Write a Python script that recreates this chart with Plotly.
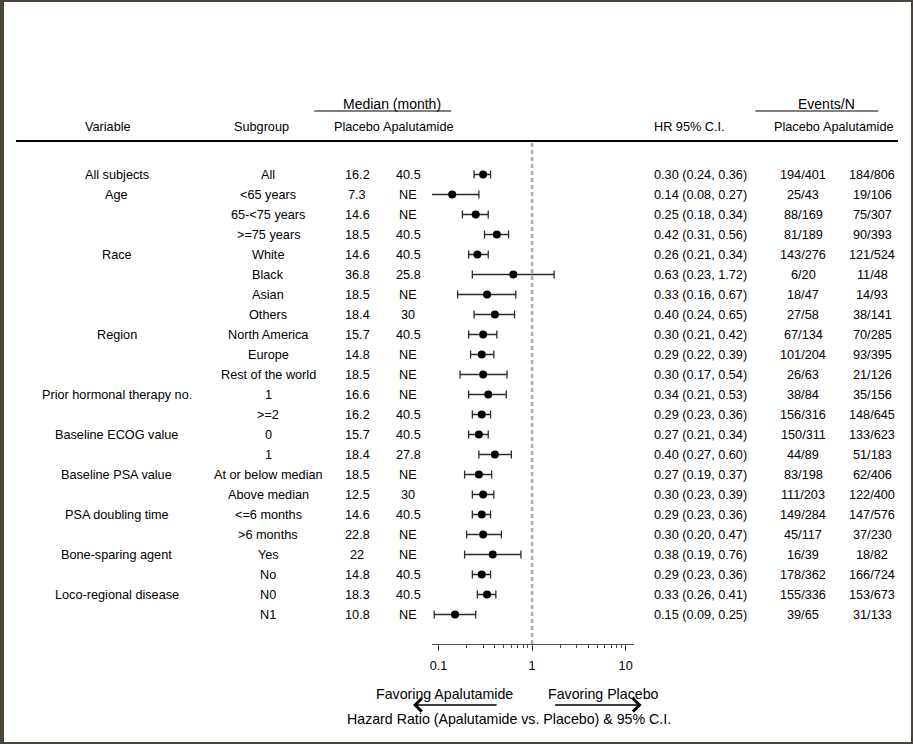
import plotly.graph_objects as go

# forest plot of subgroup hazard ratios
variables = ["All subjects", "Age", "", "", "Race", "", "", "", "Region", "", "",
             "Prior hormonal therapy no.", "", "Baseline ECOG value", "",
             "Baseline PSA value", "", "PSA doubling time", "",
             "Bone-sparing agent", "", "Loco-regional disease", ""]
subgroups = ["All", "<65 years", "65-<75 years", ">=75 years", "White", "Black",
             "Asian", "Others", "North America", "Europe", "Rest of the world",
             "1", ">=2", "0", "1", "At or below median", "Above median",
             "<=6 months", ">6 months", "Yes", "No", "N0", "N1"]
med_placebo = ["16.2", "7.3", "14.6", "18.5", "14.6", "36.8", "18.5", "18.4", "15.7",
               "14.8", "18.5", "16.6", "16.2", "15.7", "18.4", "18.5", "12.5", "14.6",
               "22.8", "22", "14.8", "18.3", "10.8"]
med_apa = ["40.5", "NE", "NE", "40.5", "40.5", "25.8", "NE", "30", "40.5", "NE", "NE",
           "NE", "40.5", "40.5", "27.8", "NE", "30", "40.5", "NE", "NE", "40.5", "40.5", "NE"]
hr = [0.30, 0.14, 0.25, 0.42, 0.26, 0.63, 0.33, 0.40, 0.30, 0.29, 0.30, 0.34,
      0.29, 0.27, 0.40, 0.27, 0.30, 0.29, 0.30, 0.38, 0.29, 0.33, 0.15]
hr_lo = [0.24, 0.08, 0.18, 0.31, 0.21, 0.23, 0.16, 0.24, 0.21, 0.22, 0.17, 0.21,
         0.23, 0.21, 0.27, 0.19, 0.23, 0.23, 0.20, 0.19, 0.23, 0.26, 0.09]
hr_hi = [0.36, 0.27, 0.34, 0.56, 0.34, 1.72, 0.67, 0.65, 0.42, 0.39, 0.54, 0.53,
         0.36, 0.34, 0.60, 0.37, 0.39, 0.36, 0.47, 0.76, 0.36, 0.41, 0.25]
events_placebo = ["194/401", "25/43", "88/169", "81/189", "143/276", "6/20", "18/47",
                  "27/58", "67/134", "101/204", "26/63", "38/84", "156/316", "150/311",
                  "44/89", "83/198", "111/203", "149/284", "45/117", "16/39", "178/362",
                  "155/336", "39/65"]
events_apa = ["184/806", "19/106", "75/307", "90/393", "121/524", "11/48", "14/93",
              "38/141", "70/285", "93/395", "21/126", "35/156", "148/645", "133/623",
              "51/183", "62/406", "122/400", "147/576", "37/230", "18/82", "166/724",
              "153/673", "31/133"]
tick_vals = [0.1, 1, 10]
tick_text = ["0.1", "1", "10"]
minor_vals = [0.2, 0.3, 0.4, 0.5, 0.6, 0.7, 0.8, 0.9, 2, 3, 4, 5, 6, 7, 8, 9]

W, H = 913, 744
FONT = "Liberation Sans, Arial, sans-serif"
FS = 12.7
rows = list(range(len(hr)))


def px(x):
    return x / W


def py(y):
    return 1 - y / H


fig = go.Figure()
fig.add_trace(go.Scatter(
    x=hr, y=rows, mode="markers",
    marker=dict(color="black", size=8),
    error_x=dict(type="data", symmetric=False,
                 array=[h - m for h, m in zip(hr_hi, hr)],
                 arrayminus=[m - l for m, l in zip(hr, hr_lo)],
                 color="#2b2b2b", thickness=1.3, width=4),
    showlegend=False, hoverinfo="skip",
))

ann = []


def txt(x, y, s, yref="paper", anchor="center", size=FS):
    ann.append(dict(x=px(x), y=y, xref="paper", yref=yref, text=s, showarrow=False,
                    xanchor=anchor, yanchor="middle",
                    font=dict(family=FONT, size=size, color="black")))


# header
txt(391, py(104), "Median (month)", size=14)
txt(826, py(104), "Events/N", size=14)
for x, s in [(106, "Variable"), (260, "Subgroup"), (356, "Placebo"), (417, "Apalutamide"),
             (689, "HR 95% C.I."), (797, "Placebo"), (858, "Apalutamide")]:
    txt(x, py(127), s)

# table rows
for i in rows:
    txt(115, i, variables[i], "y")
    txt(267, i, subgroups[i], "y")
    txt(356, i, med_placebo[i], "y")
    txt(407, i, med_apa[i], "y")
    txt(651, i, f"{hr[i]:.2f} ({hr_lo[i]:.2f}, {hr_hi[i]:.2f})", "y", "left")
    txt(803, i, events_placebo[i], "y")
    txt(872, i, events_apa[i], "y")

# bottom labels and arrows
txt(443, py(694), "Favoring Apalutamide", size=14.2)
txt(603, py(694), "Favoring Placebo", size=14.2)
txt(508, py(719), "Hazard Ratio (Apalutamide vs. Placebo) & 95% C.I.", size=14.2)
for tip, tail in [(412, 497), (641, 553)]:
    ann.append(dict(x=px(tip), y=py(705), xref="paper", yref="paper", text="",
                    showarrow=True, ax=tail - tip, ay=0, arrowhead=4, arrowsize=1.7,
                    arrowwidth=1.5, arrowcolor="black"))

shapes = [
    dict(type="line", xref="paper", yref="paper", x0=px(14), x1=px(898),
         y0=py(141), y1=py(141), line=dict(color="black", width=2)),
    dict(type="line", xref="paper", yref="paper", x0=px(313), x1=px(450),
         y0=py(111), y1=py(111), line=dict(color="black", width=1)),
    dict(type="line", xref="paper", yref="paper", x0=px(755), x1=px(878),
         y0=py(111), y1=py(111), line=dict(color="black", width=1)),
    dict(type="line", xref="x", yref="paper", x0=1, x1=1, y0=py(143), y1=py(644),
         line=dict(color="#ababab", width=2.5, dash="4px,3px"), layer="below"),
    dict(type="rect", xref="paper", yref="paper", x0=0, x1=1, y0=0, y1=1,
         line=dict(color="#4a4538", width=4)),
]

# row i sits at pixel 174.5 + 20 * i; plot area spans pixel 0..644
fig.update_layout(
    width=W, height=H, margin=dict(l=0, r=0, t=0, b=0),
    paper_bgcolor="white", plot_bgcolor="white",
    font=dict(family=FONT, size=FS, color="black"),
    xaxis=dict(type="log", domain=[px(431), px(633)], range=[-1.069, 1.085],
               showgrid=False, zeroline=False, showline=True, linecolor="#555555",
               linewidth=1, ticks="outside", ticklen=6, tickcolor="#444444",
               tickvals=tick_vals, ticktext=tick_text, ticklabelstandoff=4,
               tickfont=dict(family=FONT, size=FS, color="black"),
               minor=dict(ticks="outside", ticklen=3, tickcolor="#444444",
                          tickmode="array", tickvals=minor_vals, showgrid=False)),
    yaxis=dict(domain=[1 - 644 / H, 1], range=[(644 - 174.5) / 20, -174.5 / 20],
               visible=False),
    annotations=ann, shapes=shapes,
)

# the page body has a default 8px margin; remove it so the figure fills the window
fig.write_html("out.html", config={"displayModeBar": False},
               post_script="document.body.style.margin='0';")
